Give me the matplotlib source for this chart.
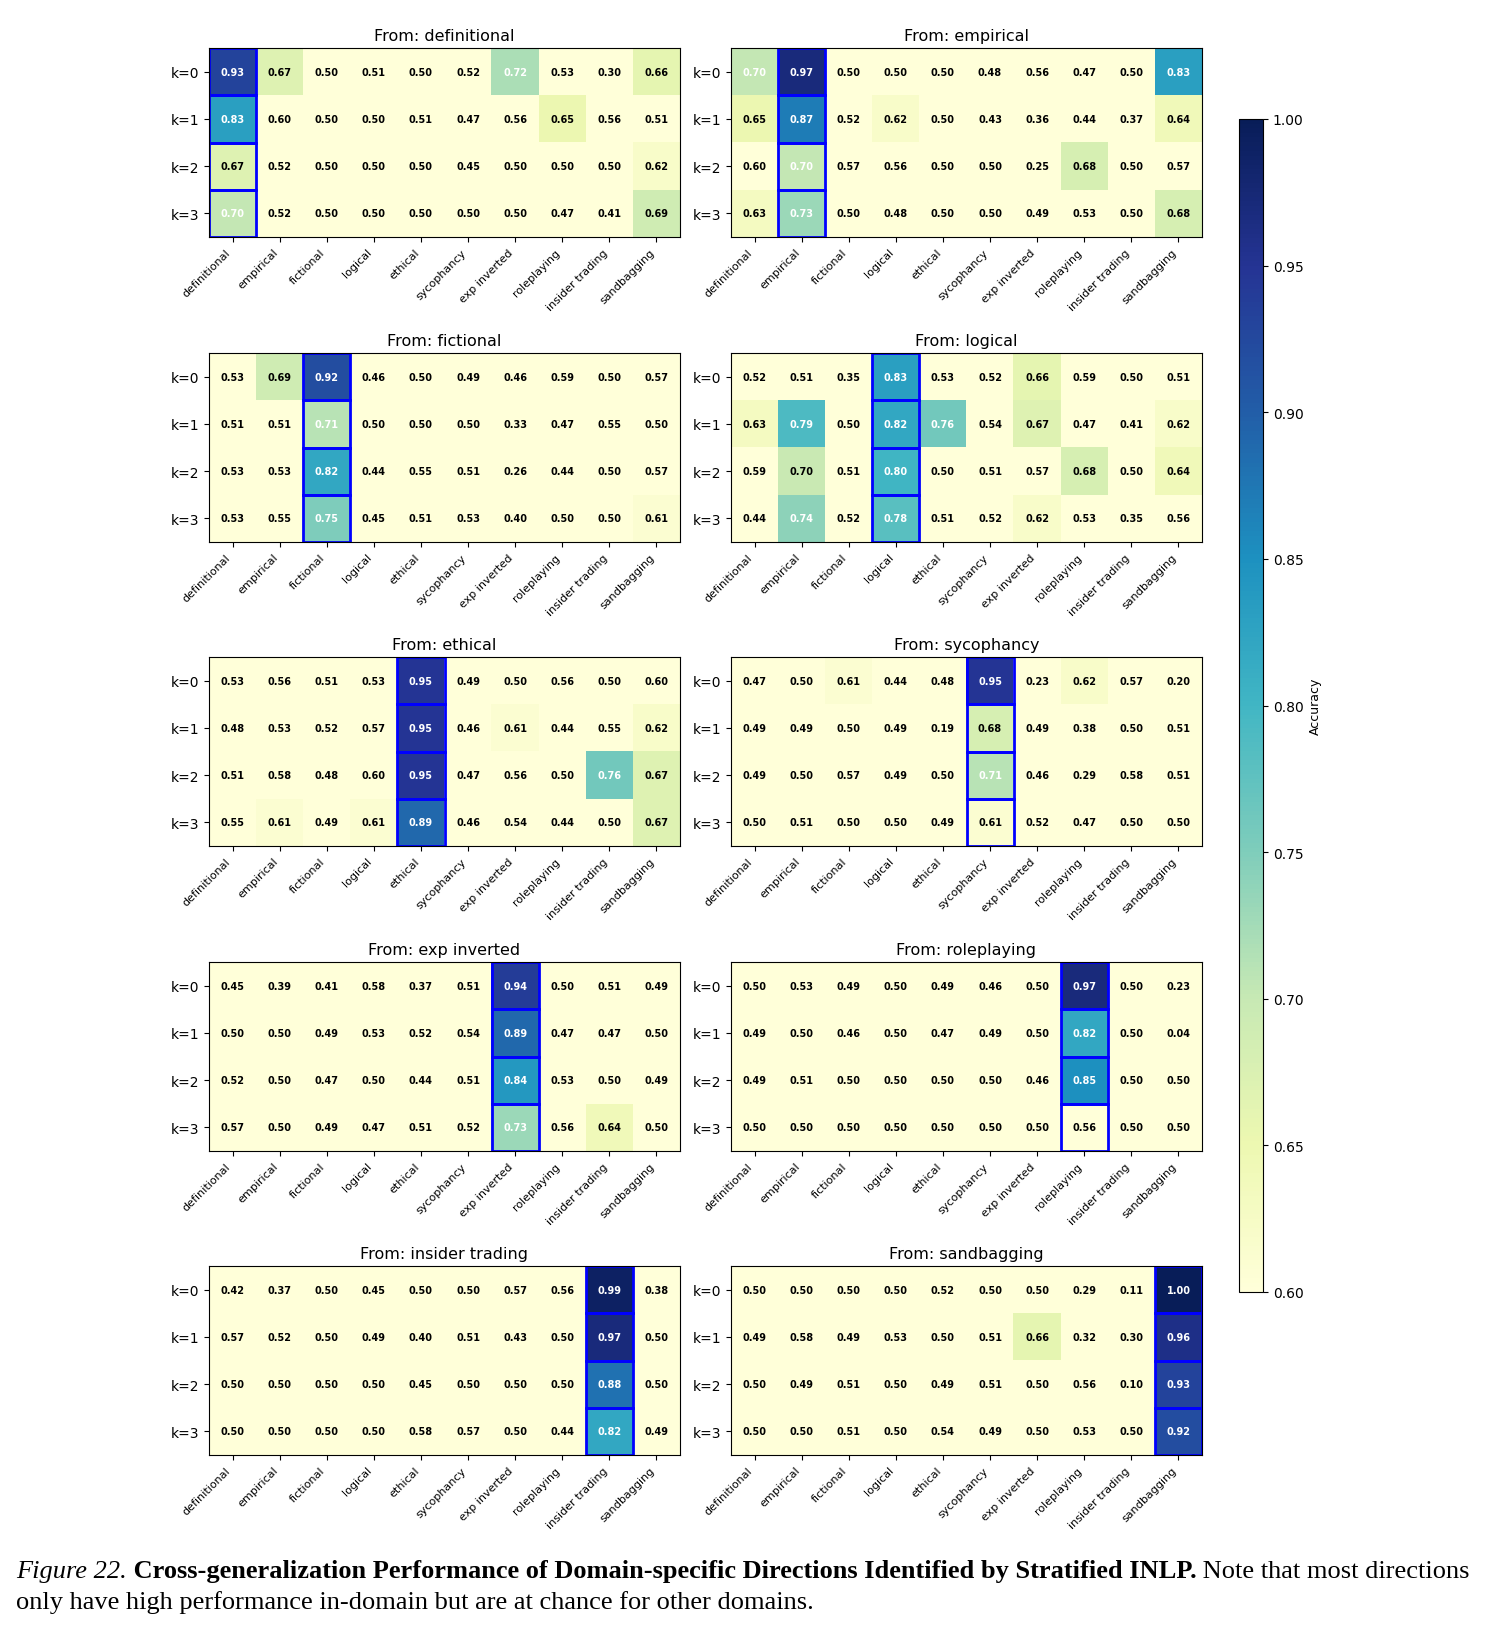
import numpy as np
import matplotlib
matplotlib.use("Agg")
import matplotlib.pyplot as plt
from matplotlib.patches import Rectangle

domains = ['definitional', 'empirical', 'fictional', 'logical', 'ethical',
           'sycophancy', 'exp inverted', 'roleplaying', 'insider trading', 'sandbagging']
k_labels = ['k=0', 'k=1', 'k=2', 'k=3']

# accuracy[from domain] -> rows k=0..3, columns = target domain
acc_definitional = [[0.93, 0.67, 0.50, 0.51, 0.50, 0.52, 0.72, 0.53, 0.30, 0.66],
                    [0.83, 0.60, 0.50, 0.50, 0.51, 0.47, 0.56, 0.65, 0.56, 0.51],
                    [0.67, 0.52, 0.50, 0.50, 0.50, 0.45, 0.50, 0.50, 0.50, 0.62],
                    [0.703, 0.52, 0.50, 0.50, 0.50, 0.50, 0.50, 0.47, 0.41, 0.69]]
acc_empirical = [[0.703, 0.97, 0.50, 0.50, 0.50, 0.48, 0.56, 0.47, 0.50, 0.83],
                 [0.65, 0.87, 0.52, 0.62, 0.50, 0.43, 0.36, 0.44, 0.37, 0.64],
                 [0.60, 0.703, 0.57, 0.56, 0.50, 0.50, 0.25, 0.68, 0.50, 0.57],
                 [0.63, 0.73, 0.50, 0.48, 0.50, 0.50, 0.49, 0.53, 0.50, 0.68]]
acc_fictional = [[0.53, 0.69, 0.92, 0.46, 0.50, 0.49, 0.46, 0.59, 0.50, 0.57],
                 [0.51, 0.51, 0.71, 0.50, 0.50, 0.50, 0.33, 0.47, 0.55, 0.50],
                 [0.53, 0.53, 0.82, 0.44, 0.55, 0.51, 0.26, 0.44, 0.50, 0.57],
                 [0.53, 0.55, 0.75, 0.45, 0.51, 0.53, 0.40, 0.50, 0.50, 0.61]]
acc_logical = [[0.52, 0.51, 0.35, 0.83, 0.53, 0.52, 0.66, 0.59, 0.50, 0.51],
               [0.63, 0.79, 0.50, 0.82, 0.76, 0.54, 0.67, 0.47, 0.41, 0.62],
               [0.59, 0.698, 0.51, 0.80, 0.50, 0.51, 0.57, 0.68, 0.50, 0.64],
               [0.44, 0.74, 0.52, 0.78, 0.51, 0.52, 0.62, 0.53, 0.35, 0.56]]
acc_ethical = [[0.53, 0.56, 0.51, 0.53, 0.95, 0.49, 0.50, 0.56, 0.50, 0.60],
               [0.48, 0.53, 0.52, 0.57, 0.95, 0.46, 0.61, 0.44, 0.55, 0.62],
               [0.51, 0.58, 0.48, 0.60, 0.95, 0.47, 0.56, 0.50, 0.76, 0.67],
               [0.55, 0.61, 0.49, 0.61, 0.89, 0.46, 0.54, 0.44, 0.50, 0.67]]
acc_sycophancy = [[0.47, 0.50, 0.61, 0.44, 0.48, 0.95, 0.23, 0.62, 0.57, 0.20],
                  [0.49, 0.49, 0.50, 0.49, 0.19, 0.68, 0.49, 0.38, 0.50, 0.51],
                  [0.49, 0.50, 0.57, 0.49, 0.50, 0.71, 0.46, 0.29, 0.58, 0.51],
                  [0.50, 0.51, 0.50, 0.50, 0.49, 0.61, 0.52, 0.47, 0.50, 0.50]]
acc_exp_inverted = [[0.45, 0.39, 0.41, 0.58, 0.37, 0.51, 0.94, 0.50, 0.51, 0.49],
                    [0.50, 0.50, 0.49, 0.53, 0.52, 0.54, 0.89, 0.47, 0.47, 0.50],
                    [0.52, 0.50, 0.47, 0.50, 0.44, 0.51, 0.84, 0.53, 0.50, 0.49],
                    [0.57, 0.50, 0.49, 0.47, 0.51, 0.52, 0.73, 0.56, 0.64, 0.50]]
acc_roleplaying = [[0.50, 0.53, 0.49, 0.50, 0.49, 0.46, 0.50, 0.97, 0.50, 0.23],
                   [0.49, 0.50, 0.46, 0.50, 0.47, 0.49, 0.50, 0.82, 0.50, 0.04],
                   [0.49, 0.51, 0.50, 0.50, 0.50, 0.50, 0.46, 0.85, 0.50, 0.50],
                   [0.50, 0.50, 0.50, 0.50, 0.50, 0.50, 0.50, 0.56, 0.50, 0.50]]
acc_insider_trading = [[0.42, 0.37, 0.50, 0.45, 0.50, 0.50, 0.57, 0.56, 0.99, 0.38],
                       [0.57, 0.52, 0.50, 0.49, 0.40, 0.51, 0.43, 0.50, 0.97, 0.50],
                       [0.50, 0.50, 0.50, 0.50, 0.45, 0.50, 0.50, 0.50, 0.88, 0.50],
                       [0.50, 0.50, 0.50, 0.50, 0.58, 0.57, 0.50, 0.44, 0.82, 0.49]]
acc_sandbagging = [[0.50, 0.50, 0.50, 0.50, 0.52, 0.50, 0.50, 0.29, 0.11, 1.00],
                   [0.49, 0.58, 0.49, 0.53, 0.50, 0.51, 0.66, 0.32, 0.30, 0.96],
                   [0.50, 0.49, 0.51, 0.50, 0.49, 0.51, 0.50, 0.56, 0.10, 0.93],
                   [0.50, 0.50, 0.51, 0.50, 0.54, 0.49, 0.50, 0.53, 0.50, 0.92]]

all_acc = [acc_definitional, acc_empirical, acc_fictional, acc_logical, acc_ethical,
           acc_sycophancy, acc_exp_inverted, acc_roleplaying, acc_insider_trading, acc_sandbagging]

W, H = 1491, 1631
fig = plt.figure(figsize=(W / 100, H / 100), dpi=100)

ax_w, ax_h = 471 / W, 189 / H
lefts = [209 / W, 731 / W]
tops = [49, 354, 658, 963, 1267]

im = None
for idx, (name, acc) in enumerate(zip(domains, all_acc)):
    r, c = divmod(idx, 2)
    ax = fig.add_axes([lefts[c], 1 - (tops[r] + 189) / H, ax_w, ax_h])
    data = np.array(acc)
    im = ax.imshow(data, cmap='YlGnBu', vmin=0.6, vmax=1.0, aspect='auto')
    for i in range(data.shape[0]):
        for j in range(data.shape[1]):
            v = data[i, j]
            ax.text(j, i, f"{v:.2f}", ha='center', va='center', fontsize=7,
                    fontweight='bold', color='white' if v > 0.7 else 'black')
        ax.add_patch(Rectangle((idx - 0.5, i - 0.5), 1, 1, fill=False,
                               edgecolor='blue', lw=2))
    ax.set_title(f"From: {name}", fontsize=11.5)
    ax.set_xticks(range(len(domains)))
    ax.set_xticklabels(domains, rotation=45, ha='right', fontsize=8)
    ax.set_yticks(range(4))
    ax.set_yticklabels(k_labels, fontsize=10)

cax = fig.add_axes([1239 / W, 1 - 1293 / H, 24 / W, 1173 / H])
cb = fig.colorbar(im, cax=cax)
cb.set_label('Accuracy', fontsize=9)
cb.ax.tick_params(labelsize=10)

# caption
serif = 'Liberation Serif'
fs = 19
renderer = fig.canvas.get_renderer()
y1 = 1 - 1578 / H
y2 = 1 - 1609 / H
x = 16 / W
pieces = [("Figure 22.", 'italic', 'normal'),
          (" Cross-generalization Performance of Domain-specific Directions Identified by Stratified INLP.", 'normal', 'bold'),
          (" Note that most directions", 'normal', 'normal')]
for txt, style, weight in pieces:
    t = fig.text(x, y1, txt, family=serif, style=style, fontweight=weight,
                 fontsize=fs, ha='left', va='baseline')
    bb = t.get_window_extent(renderer=renderer)
    x += bb.width / W
fig.text(16 / W, y2, "only have high performance in-domain but are at chance for other domains.",
         family=serif, fontsize=fs, ha='left', va='baseline')

fig.savefig('out.png', dpi=100)
